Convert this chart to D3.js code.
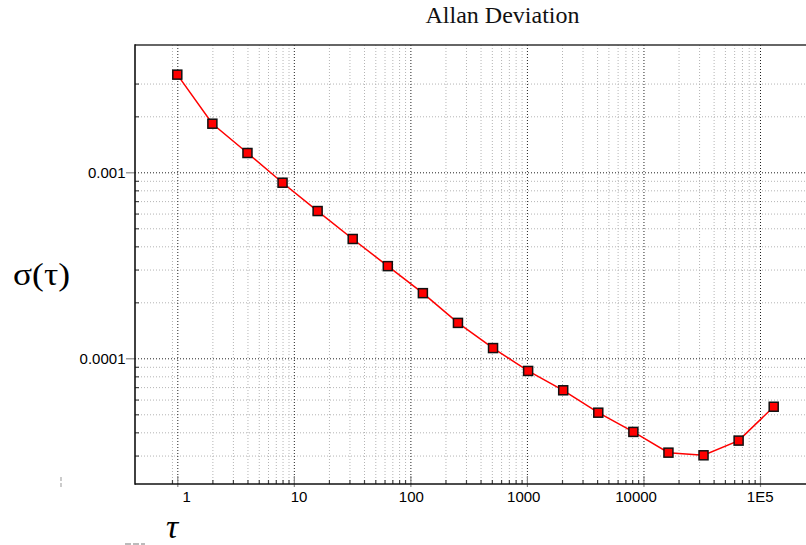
<!DOCTYPE html>
<html>
<head>
<meta charset="utf-8">
<script src="https://cdn.jsdelivr.net/npm/d3@7"></script>
<style>
  body { margin: 0; background: #fff; }
  svg { display: block; }
</style>
</head>
<body>
<div id="chart"></div>
<script>
// averaging times (s) and allan deviation
const tau = [1, 2, 4, 8, 16, 32, 64, 128, 256, 512, 1024, 2048, 4096, 8192, 16384, 32768, 65536, 131072];
const adev = [3.35e-3, 1.825e-3, 1.27e-3, 8.79e-4, 6.19e-4, 4.38e-4, 3.13e-4, 2.24e-4, 1.55e-4, 1.135e-4,
              8.55e-5, 6.73e-5, 5.10e-5, 4.02e-5, 3.11e-5, 3.01e-5, 3.61e-5, 5.49e-5];

const xMajor = [1, 10, 100, 1000, 10000, 100000];
const xLabels = ["1", "10", "100", "1000", "10000", "1E5"];
const xMinor = [0.9,
  2, 3, 4, 5, 6, 7, 8, 9,
  20, 30, 40, 50, 60, 70, 80, 90,
  200, 300, 400, 500, 600, 700, 800, 900,
  2000, 3000, 4000, 5000, 6000, 7000, 8000, 9000,
  20000, 30000, 40000, 50000, 60000, 70000, 80000, 90000];
const yMajor = [1e-3, 1e-4];
const yLabels = ["0.001", "0.0001"];
const yMinor = [3e-3, 2e-3,
  9e-4, 8e-4, 7e-4, 6e-4, 5e-4, 4e-4, 3e-4, 2e-4,
  9e-5, 8e-5, 7e-5, 6e-5, 5e-5, 4e-5, 3e-5];

const W = 806, H = 545;
// plot frame (the right side runs past the window and gets cut off)
const frame = { left: 135, top: 45, right: 870, bottom: 484 };
const plotH = frame.bottom - frame.top;
const plotW = frame.right - frame.left;

const svg = d3.select("#chart")
  .append("svg")
  .attr("width", W)
  .attr("height", H);

const x = d3.scaleLog().domain([1, 1e5]).range([177.3, 760]);
const y = d3.scaleLog().domain([1e-3, 1e-4]).range([172.3, 358.3]);

const sans = "'Liberation Sans', Arial, Helvetica, sans-serif";
const serif = "'Liberation Serif', 'Times New Roman', Times, serif";

// grid
const grid = svg.append("g");

function vGrid(vals, color) {
  const g = grid.append("g")
    .attr("transform", `translate(0, ${frame.bottom})`)
    .call(d3.axisBottom(x).tickValues(vals).tickSize(-plotH).tickFormat(""));
  g.select(".domain").remove();
  g.selectAll("line")
    .attr("stroke", color)
    .attr("stroke-width", 1)
    .attr("stroke-dasharray", "1,2");
}
function hGrid(vals, color) {
  const g = grid.append("g")
    .attr("transform", `translate(${frame.left}, 0)`)
    .call(d3.axisLeft(y).tickValues(vals).tickSize(-plotW).tickFormat(""));
  g.select(".domain").remove();
  g.selectAll("line")
    .attr("stroke", color)
    .attr("stroke-width", 1)
    .attr("stroke-dasharray", "1,2");
}
vGrid(xMinor, "#b4b4b4");
hGrid(yMinor, "#b4b4b4");
vGrid(xMajor, "#222");
hGrid(yMajor, "#222");

// minor ticks (inside)
const xMinorAx = svg.append("g")
  .attr("transform", `translate(0, ${frame.bottom})`)
  .call(d3.axisBottom(x).tickValues(xMinor).tickSize(-4).tickFormat(""));
xMinorAx.select(".domain").remove();
xMinorAx.selectAll("line").attr("stroke", "#444").attr("stroke-width", 1.2);

const yMinorAx = svg.append("g")
  .attr("transform", `translate(${frame.left}, 0)`)
  .call(d3.axisLeft(y).tickValues(yMinor).tickSize(-4).tickFormat(""));
yMinorAx.select(".domain").remove();
yMinorAx.selectAll("line").attr("stroke", "#444").attr("stroke-width", 1.2);

// major ticks + labels
const xAx = svg.append("g")
  .attr("transform", `translate(0, ${frame.bottom})`)
  .call(d3.axisBottom(x).tickValues(xMajor).tickSize(3)
    .tickFormat((d, i) => xLabels[i]));
xAx.select(".domain").remove();
xAx.selectAll("line").attr("stroke", "#888").attr("stroke-width", 1.2).attr("y1", -8);
xAx.selectAll("text")
  .attr("font-family", sans)
  .attr("font-size", 15)
  .attr("fill", "#000")
  .attr("text-anchor", "end")
  .attr("x", 13)
  .attr("y", 18)
  .attr("dy", null);

const yAx = svg.append("g")
  .attr("transform", `translate(${frame.left}, 0)`)
  .call(d3.axisLeft(y).tickValues(yMajor).tickSize(9)
    .tickFormat((d, i) => yLabels[i]));
yAx.select(".domain").remove();
yAx.selectAll("line").attr("stroke", "#888").attr("stroke-width", 1.2);
yAx.selectAll("text")
  .attr("font-family", sans)
  .attr("font-size", 15)
  .attr("fill", "#000")
  .attr("x", -9.5)
  .attr("dy", "0.36em");

// frame lines
svg.append("line")
  .attr("x1", frame.left).attr("x2", W)
  .attr("y1", frame.top).attr("y2", frame.top)
  .attr("stroke", "#333").attr("stroke-width", 1.6);
svg.append("line")
  .attr("x1", frame.left).attr("x2", W)
  .attr("y1", frame.bottom).attr("y2", frame.bottom)
  .attr("stroke", "#111").attr("stroke-width", 1.6);
svg.append("line")
  .attr("x1", frame.left).attr("x2", frame.left)
  .attr("y1", frame.top - 0.8).attr("y2", frame.bottom + 0.8)
  .attr("stroke", "#111").attr("stroke-width", 1.6);

// data
const pts = tau.map((t, i) => [t, adev[i]]);
const line = d3.line().x(d => x(d[0])).y(d => y(d[1]));

svg.append("path")
  .datum(pts)
  .attr("d", line)
  .attr("fill", "none")
  .attr("stroke", "#ff0000")
  .attr("stroke-width", 1.5);

const sz = 9;
svg.append("g")
  .selectAll("rect")
  .data(pts)
  .join("rect")
  .attr("x", d => x(d[0]) - sz / 2)
  .attr("y", d => y(d[1]) - sz / 2)
  .attr("width", sz)
  .attr("height", sz)
  .attr("fill", "#ff0000")
  .attr("stroke", "#111")
  .attr("stroke-width", 1.5);

// titles
svg.append("text")
  .attr("x", (frame.left + frame.right) / 2)
  .attr("y", 23)
  .attr("text-anchor", "middle")
  .attr("font-family", serif)
  .attr("font-size", 24)
  .attr("fill", "#111")
  .text("Allan Deviation");

svg.append("text")
  .attr("x", 13)
  .attr("y", 285)
  .attr("font-family", serif)
  .attr("font-size", 32)
  .attr("fill", "#000")
  .attr("textLength", 57)
  .attr("lengthAdjust", "spacingAndGlyphs")
  .text("σ(τ)");

svg.append("text")
  .attr("x", 172)
  .attr("y", 538)
  .attr("text-anchor", "middle")
  .attr("font-family", serif)
  .attr("font-style", "italic")
  .attr("font-size", 34)
  .attr("fill", "#000")
  .text("τ");

// stray marks in the lower left corner
svg.append("line")
  .attr("x1", 61).attr("x2", 61)
  .attr("y1", 477).attr("y2", 488)
  .attr("stroke", "#aaa").attr("stroke-width", 1.2)
  .attr("stroke-dasharray", "4,2");
svg.append("line")
  .attr("x1", 125).attr("x2", 145)
  .attr("y1", 544).attr("y2", 544)
  .attr("stroke", "#bbb").attr("stroke-width", 2)
  .attr("stroke-dasharray", "6,2");
</script>
</body>
</html>
